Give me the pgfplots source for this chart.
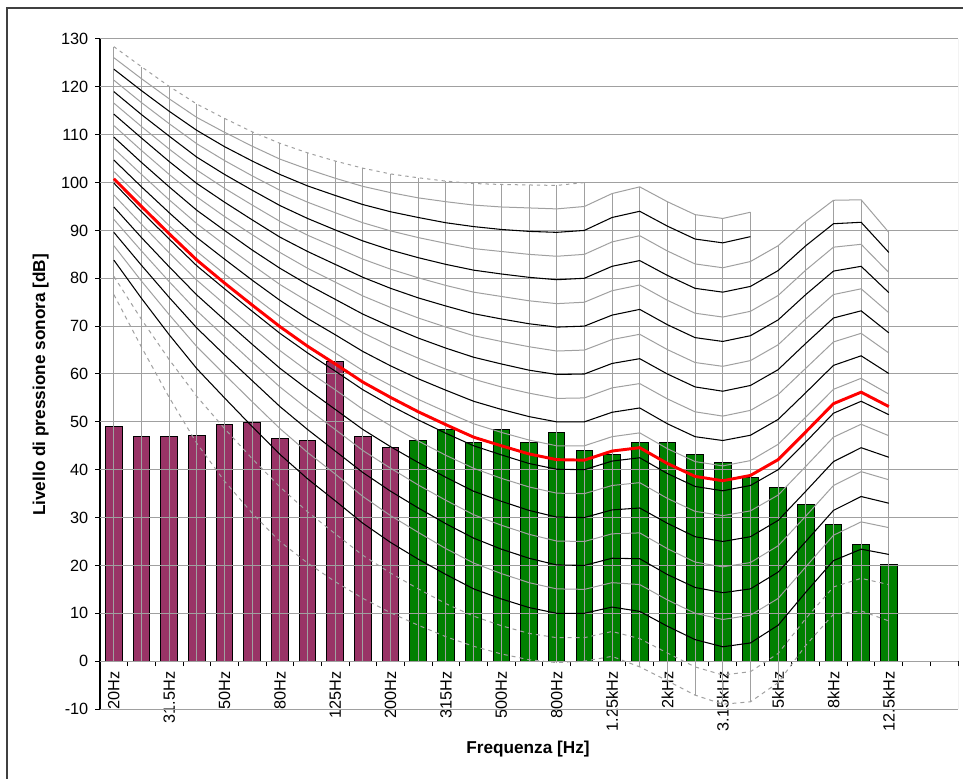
\documentclass[border=0pt]{standalone}
\usepackage{pgfplots}
\usepackage{pgfplotstable}
\pgfplotsset{compat=1.18}
\usepackage{fontspec}
\setmainfont{Liberation Sans}
\definecolor{gridgray}{RGB}{160,160,160}
\definecolor{barpurple}{RGB}{153,51,102}
\definecolor{bargreen}{RGB}{0,128,0}
\definecolor{framegray}{RGB}{64,64,64}

% x B L0 ... L100 R(red curve) T(top of drop line)
\pgfplotstableread{
x B L0 L5 L10 L15 L20 L25 L30 L35 L40 L45 L50 L55 L60 L65 L70 L75 L80 L85 L90 L95 L100 R T
0 49.1 76.6 80.4 83.8 86.8 89.6 92.3 94.9 97.4 99.9 102.3 104.7 107.1 109.5 111.9 114.3 116.6 119.0 121.4 123.7 126.1 128.4 100.8 128.4
1 46.9 65.6 71.4 75.8 79.4 82.7 85.7 88.5 91.3 93.9 96.6 99.1 101.7 104.2 106.7 109.3 111.7 114.2 116.7 119.2 121.7 124.2 95.0 124.2
2 46.9 55.1 63.0 68.2 72.4 76.0 79.3 82.4 85.3 88.2 91.0 93.7 96.4 99.1 101.7 104.4 107.0 109.7 112.3 114.9 117.5 120.1 89.3 120.1
3 47.2 45.5 55.3 61.1 65.7 69.6 73.2 76.5 79.6 82.6 85.6 88.5 91.4 94.2 97.0 99.8 102.6 105.3 108.1 110.9 113.6 116.4 83.8 116.4
4 49.4 37.6 48.6 55.0 59.9 64.0 67.8 71.3 74.6 77.8 80.9 84.0 87.0 90.0 92.9 95.9 98.8 101.7 104.6 107.5 110.5 113.4 79.0 113.4
5 49.8 30.9 42.3 49.0 54.2 58.6 62.5 66.2 69.7 73.1 76.4 79.6 82.8 85.9 89.1 92.2 95.3 98.4 101.4 104.5 107.6 110.6 74.4 110.6
6 46.5 25.0 36.4 43.2 48.6 53.2 57.3 61.2 64.9 68.5 72.0 75.4 78.7 82.1 85.4 88.6 91.9 95.2 98.4 101.7 104.9 108.2 69.9 108.2
7 46.0 20.5 31.2 38.1 43.6 48.4 52.7 56.8 60.6 64.4 68.0 71.6 75.2 78.7 82.1 85.6 89.0 92.5 95.9 99.3 102.8 106.2 65.8 106.2
8 62.6 16.6 26.6 33.5 39.1 43.9 48.4 52.6 56.7 60.6 64.4 68.2 71.9 75.6 79.2 82.9 86.5 90.1 93.7 97.3 100.9 104.5 62.1 104.5
9 46.9 13.1 22.1 28.8 34.4 39.4 44.0 48.4 52.6 56.7 60.7 64.7 68.6 72.5 76.3 80.2 84.0 87.8 91.6 95.4 99.2 103.0 58.3 103.0
10 44.7 10.1 18.4 24.8 30.4 35.5 40.3 44.8 49.2 53.4 57.6 61.7 65.8 69.9 73.9 77.9 81.9 85.9 89.9 93.9 97.9 101.8 55.1 101.8
11 46.2 7.5 15.1 21.3 26.9 32.0 36.8 41.5 46.0 50.4 54.7 59.0 63.3 67.5 71.7 75.9 80.1 84.3 88.5 92.7 96.8 101.0 52.1 101.0
12 48.4 5.1 12.0 18.1 23.5 28.7 33.6 38.4 43.0 47.6 52.1 56.6 61.0 65.4 69.8 74.2 78.5 82.9 87.3 91.6 96.0 100.3 49.4 100.3
13 45.6 3.1 9.4 15.1 20.5 25.7 30.6 35.5 40.3 45.0 49.6 54.3 58.9 63.5 68.0 72.6 77.1 81.7 86.2 90.8 95.3 99.8 46.8 99.8
14 48.4 1.5 7.4 13.0 18.3 23.4 28.4 33.4 38.2 43.1 47.8 52.6 57.3 62.1 66.8 71.5 76.2 80.9 85.6 90.2 94.9 99.6 45.0 99.6
15 45.7 0.3 5.8 11.2 16.4 21.5 26.5 31.5 36.4 41.3 46.2 51.1 56.0 60.8 65.7 70.5 75.3 80.2 85.0 89.8 94.7 99.5 43.3 99.5
16 47.8 -0.3 4.9 10.0 15.1 20.1 25.1 30.1 35.1 40.1 45.0 50.0 54.9 59.9 64.8 69.8 74.7 79.7 84.6 89.6 94.5 99.4 42.1 99.4
17 44.0 0.0 4.9 10.0 15.0 20.0 25.0 30.0 35.0 40.0 45.0 50.0 55.0 60.0 65.0 70.0 75.0 80.0 85.0 90.0 95.0 100.0 42.0 100.0
18 43.1 1.0 6.2 11.3 16.4 21.5 26.6 31.6 36.7 41.8 46.9 52.0 57.1 62.2 67.2 72.3 77.4 82.5 87.6 92.7 97.7 nan 43.9 97.7
19 45.6 -1.2 4.7 10.4 16.0 21.4 26.8 32.0 37.3 42.5 47.7 52.9 58.0 63.2 68.3 73.5 78.6 83.7 88.9 94.0 99.1 nan 44.6 99.1
20 45.6 -4.1 1.7 7.3 12.8 18.1 23.5 28.8 34.0 39.2 44.4 49.6 54.8 60.0 65.1 70.3 75.4 80.6 85.7 90.9 96.0 nan 41.3 96.0
21 43.1 -7.1 -1.2 4.5 10.0 15.4 20.7 26.0 31.3 36.5 41.7 46.9 52.1 57.3 62.4 67.6 72.7 77.9 83.0 88.2 93.3 nan 38.6 93.3
22 41.5 -9.0 -2.9 3.0 8.7 14.3 19.7 25.0 30.4 35.6 40.8 46.1 51.2 56.4 61.6 66.8 71.9 77.1 82.2 87.4 92.5 nan 37.7 92.5
23 38.3 -8.5 -2.2 3.8 9.6 15.1 20.6 26.0 31.4 36.7 41.9 47.2 52.4 57.6 62.8 68.0 73.1 78.3 83.5 88.7 93.8 nan 38.8 93.8
24 36.3 -4.5 1.6 7.5 13.1 18.6 24.1 29.4 34.7 40.0 45.3 50.5 55.7 60.9 66.1 71.3 76.4 81.6 86.8 nan nan nan 42.1 86.8
25 32.8 3.3 8.9 14.4 19.7 25.0 30.3 35.5 40.7 45.8 51.0 56.1 61.2 66.4 71.5 76.6 81.7 86.8 91.9 nan nan nan 47.9 91.9
26 28.5 9.8 15.5 21.0 26.3 31.5 36.7 41.7 46.8 51.8 56.8 61.8 66.7 71.7 76.6 81.5 86.5 91.4 96.3 nan nan nan 53.8 96.3
27 24.3 10.5 17.3 23.4 29.1 34.4 39.6 44.6 49.5 54.3 59.1 63.8 68.5 73.2 77.8 82.5 87.1 91.7 96.4 nan nan nan 56.2 96.4
28 20.1 8.4 16.0 22.3 27.9 33.0 37.9 42.6 47.1 51.5 55.8 60.1 64.4 68.6 72.8 77.0 81.2 85.4 89.6 nan nan nan 53.2 89.6
}\nrdata

\begin{document}
\begin{tikzpicture}
\useasboundingbox (0,0) rectangle (722.25pt,583.5pt);
\fill[white] (0,0) rectangle (722.25pt,583.5pt);
\draw[framegray, line width=1.5pt] (5.25pt,-5pt) -- (5.25pt,577.5pt) -- (730pt,577.5pt);
\begin{axis}[
  at={(75pt,51.75pt)}, anchor=south west,
  scale only axis, width=643.5pt, height=502.5pt,
  xmin=-0.5, xmax=30.5, ymin=-10, ymax=130,
  axis x line*=middle, axis y line*=left,
  hide obscured x ticks=false, hide obscured y ticks=false,
  axis line style={black, line width=0.9pt},
  xtick={-0.5,0.5,...,30.5}, xticklabels={},
  xtick align=outside, ytick align=outside,
  major tick length=3.75pt,
  tick style={black, line width=0.75pt},
  ytick={-10,0,...,130},
  yticklabel style={xshift=-1.5pt},
  extra x ticks={0,2,...,28},
  extra x tick labels={20Hz,31.5Hz,50Hz,80Hz,125Hz,200Hz,315Hz,500Hz,800Hz,1.25kHz,2kHz,3.15kHz,5kHz,8kHz,12.5kHz},
  extra x tick style={major tick length=0pt, xticklabel style={yshift=-4.5pt, rotate=90, anchor=east}},
  ticklabel style={font=\fontsize{12.2}{14}\selectfont},
  /pgf/number format/assume math mode=true,
  scaled y ticks=false,
  no markers,
  xlabel={Frequenza [Hz]},
  ylabel={Livello di pressione sonora [dB]},
  every axis x label/.style={at={(axis description cs:0.4988,-0.0597)}, anchor=center, font=\fontsize{12.9}{15}\selectfont\bfseries},
  every axis y label/.style={at={(axis description cs:-0.0691,0.4836)}, anchor=center, rotate=90, font=\fontsize{12.9}{15}\selectfont\bfseries},
]
% bars
\addplot[ybar, bar width=0.6, bar shift=0pt, fill=barpurple, draw=black, line width=0.75pt, restrict x to domain=0:10] table[x=x,y=B]{\nrdata};
\addplot[ybar, bar width=0.6, bar shift=0pt, fill=bargreen, draw=black, line width=0.75pt, restrict x to domain=11:28] table[x=x,y=B]{\nrdata};
% horizontal grid and right border
\pgfplotsinvokeforeach{-10,0,...,130}{\draw[gridgray, line width=0.75pt] (axis cs:-0.5,#1) -- (axis cs:30.5,#1);}
\draw[gridgray, line width=0.75pt] (axis cs:30.5,-10) -- (axis cs:30.5,130);
% drop lines
\addplot[gridgray, line width=0.75pt, quiver={u=0, v=\thisrow{T}}] table[x=x, y expr=0]{\nrdata};
\addplot[gridgray, line width=0.75pt, quiver={u=0, v=\thisrow{L0}}] table[x=x, y expr=0]{\nrdata};
% curves
\addplot[gridgray, line width=0.75pt, dash pattern=on 3pt off 3pt] table[x=x,y=L0]{\nrdata};
\addplot[gridgray, line width=0.75pt, dash pattern=on 3pt off 3pt] table[x=x,y=L5]{\nrdata};
\addplot[black, line width=0.8pt] table[x=x,y=L10]{\nrdata};
\addplot[gridgray, line width=0.75pt] table[x=x,y=L15]{\nrdata};
\addplot[black, line width=0.8pt] table[x=x,y=L20]{\nrdata};
\addplot[gridgray, line width=0.75pt] table[x=x,y=L25]{\nrdata};
\addplot[black, line width=0.8pt] table[x=x,y=L30]{\nrdata};
\addplot[gridgray, line width=0.75pt] table[x=x,y=L35]{\nrdata};
\addplot[black, line width=0.8pt] table[x=x,y=L40]{\nrdata};
\addplot[gridgray, line width=0.75pt] table[x=x,y=L45]{\nrdata};
\addplot[black, line width=0.8pt] table[x=x,y=L50]{\nrdata};
\addplot[gridgray, line width=0.75pt] table[x=x,y=L55]{\nrdata};
\addplot[black, line width=0.8pt] table[x=x,y=L60]{\nrdata};
\addplot[gridgray, line width=0.75pt] table[x=x,y=L65]{\nrdata};
\addplot[black, line width=0.8pt] table[x=x,y=L70]{\nrdata};
\addplot[gridgray, line width=0.75pt] table[x=x,y=L75]{\nrdata};
\addplot[black, line width=0.8pt] table[x=x,y=L80]{\nrdata};
\addplot[gridgray, line width=0.75pt] table[x=x,y=L85]{\nrdata};
\addplot[black, line width=0.8pt] table[x=x,y=L90]{\nrdata};
\addplot[gridgray, line width=0.75pt] table[x=x,y=L95]{\nrdata};
\addplot[gridgray, line width=0.75pt, dash pattern=on 2.5pt off 3pt] table[x=x,y=L100]{\nrdata};
% red curve
\addplot[red, line width=2.2pt] table[x=x,y=R]{\nrdata};
\end{axis}
\end{tikzpicture}
\end{document}
